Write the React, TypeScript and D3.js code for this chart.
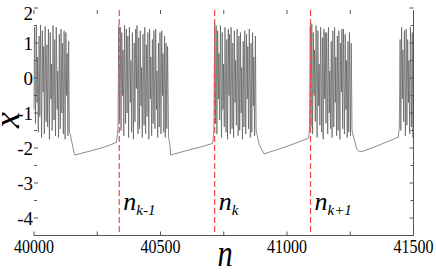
import React, { useEffect, useRef } from 'react'
import * as d3 from 'd3'

type Pt = [number, number]

// bursts of spikes as [n, x]
const burst1: Pt[] = [
  [40000, -0.9], [40002, 1.45], [40006, -1.3], [40009, 1.5], [40012, -0.7], [40014, 0.6], [40017, -1.55], [40020, 1.2],
  [40023, -1.1], [40026, 1.52], [40030, -1.7], [40033, 1.35], [40036, -0.4], [40038, 0.9], [40041, -1.6], [40044, 1.48],
  [40048, -1.25], [40051, 0.95], [40054, -1.4], [40057, 1.4], [40061, -1.75], [40064, 1.3], [40067, -0.6], [40069, 0.4],
  [40072, -1.5], [40075, 1.5], [40079, -1.2], [40082, 1.1], [40085, -1.65], [40088, 1.45], [40092, -0.9], [40094, 0.2],
  [40097, -1.7], [40100, 1.25], [40104, -1.45], [40107, 1.4], [40110, -1.0], [40113, 1.0], [40116, -1.6], [40119, 1.35],
  [40123, -1.75], [40126, 1.3], [40129, -0.5], [40131, 0.7], [40134, -1.65], [40137, 1.05], [40140, -1.55], [40143, -1.6]
]
const recovery1: Pt[] = [[40150, -1.85], [40158, -2.12], [40162, -2.2], [40220, -2.09], [40280, -1.97], [40326, -1.84], [40332, -1.45]]

const burst2: Pt[] = [
  [40335, 1.5], [40338, -1.2], [40341, 1.45], [40344, -1.5], [40347, 1.3], [40350, -0.5], [40352, 0.8], [40355, -1.65],
  [40358, 1.5], [40362, -1.3], [40365, 1.4], [40368, -1.0], [40371, 1.2], [40374, -1.7], [40377, 1.45], [40381, -0.7],
  [40383, 0.5], [40386, -1.55], [40389, 1.3], [40393, -1.75], [40396, 1.0], [40399, -1.25], [40402, 1.4], [40405, -0.3],
  [40407, 1.5], [40411, -1.6], [40414, 1.15], [40417, -1.45], [40420, 1.35], [40423, -0.8], [40425, 0.3], [40428, -1.7],
  [40431, 1.25], [40435, -1.35], [40438, 1.45], [40441, -1.6], [40444, 0.95], [40447, -1.1], [40450, 1.3], [40454, -1.75],
  [40457, 1.4], [40460, -0.6], [40462, 0.6], [40465, -1.65], [40468, 1.1], [40471, -1.3], [40474, 1.35], [40478, -1.45],
  [40481, 1.4], [40484, -0.9], [40486, 0.2], [40489, -1.7], [40492, 1.0], [40495, -1.4], [40498, 1.3], [40502, -1.6],
  [40505, 1.35], [40508, -0.5], [40510, 0.7], [40513, -1.55], [40516, 1.2], [40519, -1.7], [40522, 1.0], [40525, -1.45],
  [40528, 0.9], [40532, -1.7]
]
const recovery2: Pt[] = [[40537, -1.9], [40540, -2.2], [40600, -2.08], [40660, -1.97], [40706, -1.87], [40711, -1.5]]

const burst3: Pt[] = [
  [40714, 1.55], [40717, -1.3], [40720, 1.5], [40723, -1.6], [40726, 1.35], [40729, -0.6], [40731, 0.7], [40734, -1.2],
  [40737, 1.5], [40741, -1.7], [40744, 1.3], [40747, -0.9], [40749, 0.4], [40752, -1.4], [40755, 1.45], [40759, -1.55],
  [40762, 1.1], [40765, -1.75], [40768, 1.4], [40771, -0.5], [40773, 1.25], [40776, -1.6], [40779, 1.45], [40783, -1.45],
  [40786, 1.0], [40789, -1.7], [40792, 1.35], [40795, -0.7], [40797, 0.5], [40800, -1.35], [40803, 1.4], [40807, -1.65],
  [40810, 1.2], [40813, -1.5], [40816, 1.3], [40819, -1.0], [40821, 0.3], [40824, -1.75], [40827, 1.05], [40830, -1.4],
  [40833, 1.35], [40837, -1.6], [40840, 1.25], [40843, -0.6], [40845, 0.9], [40848, -1.45], [40851, 1.4], [40855, -1.7],
  [40858, 1.0], [40861, -1.55], [40864, 1.3], [40867, -0.8], [40869, 0.6], [40872, -1.65], [40875, 1.2], [40878, -1.5],
  [40881, -1.6]
]
const recovery3: Pt[] = [[40890, -1.9], [40909, -2.17], [40960, -2.05], [41020, -1.9], [41086, -1.72], [41089, -1.45]]

const burst4: Pt[] = [
  [41092, 1.5], [41095, -1.4], [41098, 1.55], [41101, -1.6], [41104, 1.3], [41107, -0.5], [41109, 0.8], [41112, -1.25],
  [41115, 1.5], [41119, -1.7], [41122, 1.35], [41125, -0.8], [41127, 0.4], [41130, -1.35], [41133, 1.45], [41137, -1.55],
  [41140, 1.15], [41143, -1.75], [41146, 1.4], [41149, -0.6], [41151, 1.3], [41154, -1.3], [41157, 1.3], [41161, -1.6],
  [41164, 1.45], [41167, -1.0], [41169, 0.2], [41172, -1.45], [41175, 1.05], [41178, -1.7], [41181, 1.35], [41185, -1.4],
  [41188, 1.45], [41191, -0.7], [41193, 0.6], [41196, -1.65], [41199, 1.2], [41202, -1.5], [41205, 1.35], [41209, -1.75],
  [41212, 1.0], [41215, -0.4], [41217, 1.4], [41220, -1.45], [41223, 1.4], [41227, -1.6], [41230, 1.25], [41233, -0.9],
  [41235, 0.5], [41238, -1.7], [41241, 1.05], [41244, -1.55], [41247, 1.3], [41251, -1.65], [41254, 1.0], [41257, -1.5],
  [41260, -1.6]
]
const recovery4: Pt[] = [[41276, -2.04], [41282, -2.08], [41297, -2.1], [41360, -1.93], [41440, -1.69], [41444, -1.4]]

const burst5: Pt[] = [
  [41447, 1.1], [41450, -1.5], [41453, 1.45], [41456, -0.6], [41458, 0.8], [41461, -1.25], [41464, 1.35], [41468, -1.65],
  [41471, 1.4], [41474, -1.35], [41477, 1.1], [41480, -0.7], [41482, 0.5], [41485, -1.6], [41488, 1.45], [41492, -1.4],
  [41495, 1.3], [41498, -1.7], [41500, 0.2]
]

const xTicks = [40000, 40500, 41000, 41500]
const xMinor = [40250, 40750, 41250]
const yTicks = [2, 1, 0, -1, -2, -3, -4]
const yMinor = [1.5, 0.5, -0.5, -1.5, -2.5, -3.5]
const markerN = [40337, 40714, 41093]
const markerSub = ['k-1', 'k', 'k+1']

export default function App() {
  const ref = useRef<SVGSVGElement>(null)

  useEffect(() => {
    const left = 34, right = 413.5, top = 8, bottom = 235.5, frameTop = 10
    const font = "'Liberation Serif', 'Times New Roman', serif"
    const svg = d3.select(ref.current)
    svg.selectAll('*').remove()

    const x = d3.scaleLinear().domain([40000, 41500]).range([left, right])
    const y = d3.scaleLinear().domain([-4.5, 2]).range([bottom, top])

    const series = [...burst1, ...recovery1, ...burst2, ...recovery2, ...burst3, ...recovery3, ...burst4, ...recovery4, ...burst5]
    const line = d3.line<Pt>().x(d => x(d[0])).y(d => y(d[1]))

    svg.append('path')
      .datum(series)
      .attr('d', line)
      .attr('fill', 'none')
      .attr('stroke', '#5a5a5a')
      .attr('stroke-width', 0.7)

    // frame: only bottom and right lines are drawn
    const frame = svg.append('g').attr('stroke', '#555').attr('stroke-width', 1)
    frame.append('line').attr('x1', left).attr('x2', right).attr('y1', bottom).attr('y2', bottom)
    frame.append('line').attr('x1', right).attr('x2', right).attr('y1', frameTop).attr('y2', bottom)

    const allX = [...xTicks, ...xMinor]
    frame.selectAll('.bt').data(allX).join('line')
      .attr('x1', d => x(d)).attr('x2', d => x(d))
      .attr('y1', bottom).attr('y2', bottom - 4)
    frame.selectAll('.tt').data(allX).join('line')
      .attr('x1', d => x(d)).attr('x2', d => x(d))
      .attr('y1', frameTop).attr('y2', frameTop + 4)

    const allY = [...yTicks, ...yMinor]
    frame.selectAll('.lt').data(allY).join('line')
      .attr('x1', left).attr('x2', d => left + (yTicks.includes(d) ? 4 : 3))
      .attr('y1', d => y(d)).attr('y2', d => y(d))
    frame.selectAll('.rt').data(allY).join('line')
      .attr('x1', right).attr('x2', d => right - (yTicks.includes(d) ? 4 : 3))
      .attr('y1', d => y(d)).attr('y2', d => y(d))

    // red dashed markers
    svg.selectAll('.mk').data(markerN).join('line')
      .attr('x1', d => x(d)).attr('x2', d => x(d))
      .attr('y1', frameTop).attr('y2', bottom)
      .attr('stroke', '#f04848')
      .attr('stroke-width', 1.2)
      .attr('stroke-dasharray', '6,3')

    const labels = svg.selectAll('.ml').data(markerN).join('text')
      .attr('x', d => x(d) + 4)
      .attr('y', 210)
      .style('font-family', font)
      .style('font-style', 'italic')
      .attr('font-size', 26)
      .attr('fill', '#000')
      .text('n')
    labels.append('tspan')
      .attr('font-size', 15)
      .attr('dy', 5)
      .text((d, i) => markerSub[i])

    // tick labels
    svg.selectAll('.xl').data(xTicks).join('text')
      .attr('x', d => x(d))
      .attr('y', 253)
      .attr('text-anchor', 'middle')
      .style('font-family', font)
      .attr('font-size', 19)
      .attr('textLength', 40)
      .attr('lengthAdjust', 'spacingAndGlyphs')
      .text(d => d)

    svg.selectAll('.yl').data(yTicks).join('text')
      .attr('x', 33)
      .attr('y', d => Math.max(y(d), 13))
      .attr('dy', '0.35em')
      .attr('text-anchor', 'end')
      .style('font-family', font)
      .attr('font-size', 19)
      .text(d => d)

    // axis titles
    svg.append('text')
      .attr('transform', 'translate(225,266) scale(0.8,1)')
      .attr('text-anchor', 'middle')
      .style('font-family', font)
      .style('font-style', 'italic')
      .attr('font-size', 38)
      .text('n')

    svg.append('text')
      .attr('transform', 'translate(19,120) rotate(-90)')
      .attr('text-anchor', 'middle')
      .style('font-family', font)
      .style('font-style', 'italic')
      .attr('font-size', 36)
      .text('x')
  }, [])

  return (
    <svg ref={ref} width={436} height={273} style={{ position: 'absolute', left: 0, top: 0, background: '#fff' }} />
  )
}
